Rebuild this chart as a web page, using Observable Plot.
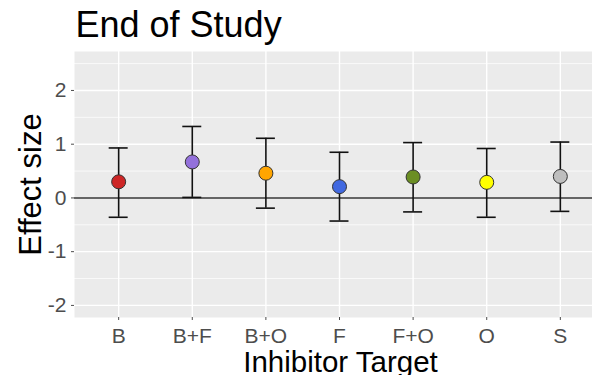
<!DOCTYPE html>
<html><head><meta charset="utf-8">
<script src="https://cdn.jsdelivr.net/npm/d3@7"></script>
<script src="https://cdn.jsdelivr.net/npm/@observablehq/plot@0.6"></script>
<style>body{margin:0;background:#fff;} #chart svg{font-family:"Liberation Sans",Arial,sans-serif;}</style>
</head><body><div id="chart"></div>
<script>
const targets = ["B","B+F","B+O","F","F+O","O","S"];
const effect = [0.30,0.67,0.46,0.21,0.39,0.29,0.40];
const lower = [-0.36,0.01,-0.19,-0.43,-0.26,-0.36,-0.25];
const upper = [0.93,1.33,1.11,0.85,1.03,0.92,1.04];
const colors = ["#CD2626","#9370DB","#FFA500","#4169E1","#6B8E23","#FFFF00","#BEBEBE"];
const yTicks = [-2,-1,0,1,2];
const yMinor = [-1.5,-0.5,0.5,1.5,2.5];
const data = targets.map((t,i)=>({target:t, effect:effect[i], lower:lower[i], upper:upper[i], color:colors[i]}));
const font = '"Liberation Sans",Arial,sans-serif';
const barColor = "#111";
const chart = Plot.plot({
  width: 592, height: 375,
  marginLeft: 74, marginRight: 0, marginTop: 51, marginBottom: 58,
  style: {fontFamily: font, background: "white", overflow: "hidden"},
  x: {type: "band", domain: targets, range: [74, 604], paddingInner: 0.742, paddingOuter: 0.471, round: false, axis: null},
  y: {domain: [-2.225, 2.725], axis: null},
  color: {type: "identity"},
  marks: [
    Plot.frame({fill: "#EBEBEB", stroke: null}),
    Plot.ruleY(yMinor, {stroke: "white", strokeWidth: 0.7}),
    Plot.ruleY(yTicks, {stroke: "white", strokeWidth: 1.4}),
    Plot.ruleX(targets, {x: d => d, stroke: "white", strokeWidth: 1.4}),
    Plot.ruleY([0], {stroke: "#333", strokeWidth: 1.4}),
    Plot.ruleX(data, {x: "target", y1: "lower", y2: "upper", stroke: barColor, strokeWidth: 1.6}),
    Plot.tickY(data, {x: "target", y: "upper", stroke: barColor, strokeWidth: 1.6}),
    Plot.tickY(data, {x: "target", y: "lower", stroke: barColor, strokeWidth: 1.6}),
    Plot.dot(data, {x: "target", y: "effect", r: 7, fill: "color", stroke: "#333", strokeWidth: 1}),
    Plot.axisY(yTicks, {tickSize: 3, tickPadding: 5, fontSize: 21, color: "#4D4D4D", tickFormat: d => String(d), label: null}),
    Plot.axisX(targets, {tickSize: 3, tickPadding: 8, fontSize: 21, color: "#4D4D4D", label: null}),
    Plot.text(["End of Study"], {frameAnchor: "top-left", dx: 1, dy: -26, textAnchor: "start", lineAnchor: "middle", fontSize: 36, fill: "black"}),
    Plot.text(["Effect size"], {frameAnchor: "left", rotate: -90, dx: -43.5, textAnchor: "middle", lineAnchor: "middle", fontSize: 31, fill: "black"}),
    Plot.text(["Inhibitor Target"], {frameAnchor: "bottom", dx: 7, dy: 44.6, textAnchor: "middle", lineAnchor: "middle", fontSize: 29.5, fill: "black"})
  ]
});
document.getElementById("chart").append(chart);
</script>
</body></html>
